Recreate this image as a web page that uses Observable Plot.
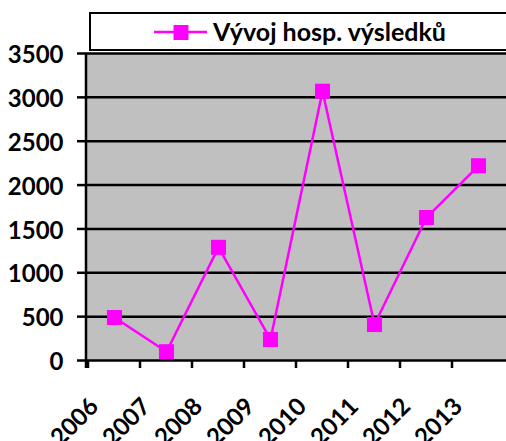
<!DOCTYPE html>
<html>
<head>
<meta charset="utf-8">
<script src="https://cdn.jsdelivr.net/npm/d3@7"></script>
<script src="https://cdn.jsdelivr.net/npm/@observablehq/plot@0.6"></script>
<style>
  html, body { margin: 0; padding: 0; background: #fff; }
  #wrap { position: relative; width: 506px; height: 441px; overflow: hidden; font-family: Lato, sans-serif; }
  #legend { position: absolute; left: 89px; top: 12px; width: 430px; height: 35px; border: 2px solid #000; background: #fff; box-sizing: content-box; }
  #legend svg { position: absolute; left: 0; top: 0; }
  #legend span { position: absolute; left: 122px; top: 2px; font: bold 25px Lato, sans-serif; color: #000; white-space: nowrap; }
</style>
</head>
<body>
<div id="wrap"></div>
<script>
const years = ["2006", "2007", "2008", "2009", "2010", "2011", "2012", "2013"];
const values = [490, 100, 1290, 240, 3070, 410, 1630, 2220];
const yTicks = [0, 500, 1000, 1500, 2000, 2500, 3000, 3500];
const seriesName = "Vývoj hosp. výsledků";
const color = "#FF00FF";

const data = years.map((y, i) => ({year: y, value: values[i]}));

const edgeTicks = (index, scales, vals, dims) => {
  const g = d3.create("svg:g");
  const x = scales.x, y = scales.y;
  const y0 = y(0);
  g.append("line")
    .attr("x1", dims.marginLeft).attr("x2", dims.marginLeft)
    .attr("y1", dims.marginTop).attr("y2", y0 + 8)
    .attr("stroke", "#000").attr("stroke-width", 2.5);
  years.forEach(yr => {
    const xx = x(yr);
    g.append("line")
      .attr("x1", xx).attr("x2", xx)
      .attr("y1", y0).attr("y2", y0 + 8)
      .attr("stroke", "#000").attr("stroke-width", 2.5);
  });
  return g.node();
};

const chart = Plot.plot({
  width: 506,
  height: 441,
  marginLeft: 86,
  marginRight: 0,
  marginTop: 53,
  marginBottom: 81,
  style: {fontFamily: "Lato, sans-serif", background: "transparent", overflow: "visible"},
  x: {type: "band", domain: years, padding: 0, axis: null},
  y: {domain: [0, 3500]},
  marks: [
    Plot.frame({fill: "#C0C0C0", stroke: null}),
    Plot.ruleY(yTicks, {stroke: "#000", strokeWidth: 2.5}),
    Plot.axisY({ticks: yTicks, tickSize: 9, tickPadding: 14, tickFormat: d => String(d), fontSize: 24, fontWeight: "bold", fill: "#000", stroke: "#000", strokeWidth: 2.5, label: null}),
    Plot.text(years, {x: d => d, y: () => 0, text: d => d, rotate: -45, textAnchor: "end", lineAnchor: "middle", dx: -20, dy: 42, fontSize: 24, fontWeight: "bold", fill: "#000"}),
    edgeTicks,
    Plot.line(data, {x: "year", y: "value", stroke: color, strokeWidth: 2.5}),
    Plot.dot(data, {x: "year", y: "value", symbol: "square", r: 8.5, fill: color, stroke: null})
  ]
});

// nudge y tick labels slightly down to match the reference baseline
const yLabels = chart.querySelector("g[aria-label='y-axis tick label']");
if (yLabels) {
  const tr = yLabels.getAttribute("transform") || "";
  yLabels.setAttribute("transform", (tr + " translate(0,2)").trim());
}

const wrap = document.getElementById("wrap");
wrap.appendChild(chart);

const legend = document.createElement("div");
legend.id = "legend";
legend.innerHTML = `<svg width="130" height="35"><line x1="63" x2="116" y1="18" y2="18" stroke="${color}" stroke-width="2.5"/><rect x="82.5" y="11" width="15" height="15" fill="${color}"/></svg><span>${seriesName}</span>`;
wrap.appendChild(legend);
</script>
</body>
</html>
